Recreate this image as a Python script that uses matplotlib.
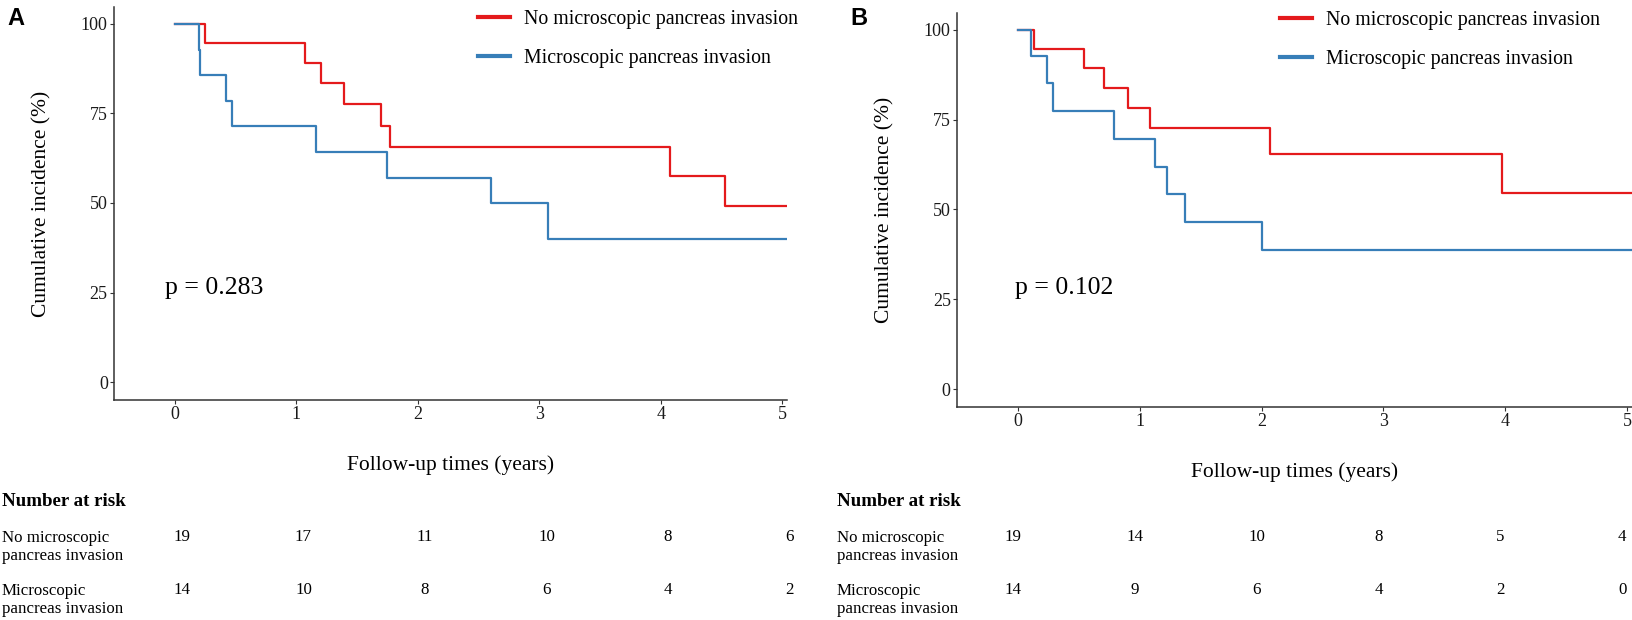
import matplotlib
matplotlib.use("Agg")
import matplotlib.pyplot as plt
from matplotlib.lines import Line2D
from matplotlib.transforms import blended_transform_factory

plt.rcParams["font.family"] = ["Liberation Serif", "DejaVu Serif"]

# panel A, step curves (years, %)
a_no_t = [0, 0.246, 1.075, 1.20, 1.39, 1.70, 1.77, 4.08, 4.53, 5.04]
a_no_s = [100, 94.7, 89.1, 83.5, 77.5, 71.6, 65.6, 57.4, 49.2, 49.2]
a_mi_t = [0, 0.20, 0.21, 0.42, 0.47, 1.165, 1.745, 2.60, 3.07, 5.04]
a_mi_s = [100, 92.8, 85.6, 78.4, 71.4, 64.2, 57.0, 50.0, 40.0, 40.0]

# panel B
b_no_t = [0, 0.13, 0.545, 0.706, 0.907, 1.086, 2.067, 3.975, 5.04]
b_no_s = [100, 94.6, 89.3, 83.8, 78.2, 72.7, 65.4, 54.5, 54.5]
b_mi_t = [0, 0.109, 0.239, 0.288, 0.787, 1.125, 1.227, 1.374, 2.007, 5.04]
b_mi_s = [100, 92.8, 85.1, 77.4, 69.7, 61.9, 54.2, 46.5, 38.7, 38.7]

risk_years = [0, 1, 2, 3, 4, 5]
a_risk_no = [19, 17, 11, 10, 8, 6]
a_risk_mi = [14, 10, 8, 6, 4, 2]
b_risk_no = [19, 14, 10, 8, 5, 4]
b_risk_mi = [14, 9, 6, 4, 2, 0]

p_a = "p = 0.283"
p_b = "p = 0.102"

labels = ["No microscopic pancreas invasion", "Microscopic pancreas invasion"]
row_labels = ["No microscopic\npancreas invasion", "Microscopic\npancreas invasion"]
red = "#E41A1C"
blue = "#377EB8"

W, H = 1632, 620
fig = plt.figure(figsize=(W / 100, H / 100), dpi=100)


def fx(px):
    return px / W


def fy(py):
    return 1 - py / H


panels = [
    dict(rect=[fx(114), fy(400), fx(787) - fx(114), (400 - 7) / H],
         no=(a_no_t, a_no_s), mi=(a_mi_t, a_mi_s), p=p_a, py=26.3, px=-0.08,
         leg=(478, 10), letter="A", lx=7, ylx=42, xly=465,
         risk=(a_risk_no, a_risk_mi), roff=0.06, tabx=2),
    dict(rect=[fx(957), fy(407), fx(1632) - fx(957), (407 - 13) / H],
         no=(b_no_t, b_no_s), mi=(b_mi_t, b_mi_s), p=p_b, py=28.1, px=-0.02,
         leg=(1280, 11), letter="B", lx=850, ylx=885, xly=472,
         risk=(b_risk_no, b_risk_mi), roff=-0.04, tabx=837),
]

for pn in panels:
    ax = fig.add_axes(pn["rect"])
    ax.step(pn["no"][0], pn["no"][1], where="post", color=red, lw=1.6)
    ax.step(pn["mi"][0], pn["mi"][1], where="post", color=blue, lw=1.6)
    ax.set_xlim(-0.5, 5.04)
    ax.set_ylim(-5, 104.7)
    ax.set_xticks(risk_years)
    ax.set_yticks([0, 25, 50, 75, 100])
    ax.tick_params(labelsize=13, length=3, width=0.8, pad=1.5,
                   colors="#333333", labelcolor="#1a1a1a")
    for s in ["top", "right"]:
        ax.spines[s].set_visible(False)
    for s in ["left", "bottom"]:
        ax.spines[s].set_linewidth(1.1)
        ax.spines[s].set_color("#333333")
    ax.text(pn["px"], pn["py"], pn["p"], fontsize=18.5, va="center", ha="left")

    handles = [Line2D([], [], color=red, lw=3), Line2D([], [], color=blue, lw=3)]
    ax.legend(handles, labels, loc="upper left",
              bbox_to_anchor=(fx(pn["leg"][0]), fy(pn["leg"][1])),
              bbox_transform=fig.transFigure, frameon=False, fontsize=14.3,
              borderpad=0, borderaxespad=0, handlelength=1.6,
              handletextpad=0.7, labelspacing=1.0)

    fig.text(fx(pn["lx"]), fy(7), pn["letter"], family="Liberation Sans",
             fontweight="bold", fontsize=17, va="top", ha="left")
    fig.text(fx(pn["ylx"]), (pn["rect"][1] + pn["rect"][3] / 2),
             "Cumulative incidence (%)", rotation=90, fontsize=15.5,
             va="center", ha="center")
    xc = pn["rect"][0] + pn["rect"][2] / 2
    fig.text(xc, fy(pn["xly"]), "Follow-up times (years)", fontsize=15.5,
             va="center", ha="center")

    # number at risk table
    fig.text(fx(pn["tabx"]), fy(502), "Number at risk", fontsize=13.6,
             fontweight="bold", va="center", ha="left")
    fig.text(fx(pn["tabx"]), fy(547), row_labels[0], fontsize=12.2,
             va="center", ha="left", linespacing=1.15)
    fig.text(fx(pn["tabx"]), fy(600), row_labels[1], fontsize=12.2,
             va="center", ha="left", linespacing=1.15)
    tr = blended_transform_factory(ax.transData, fig.transFigure)
    for yr, n1, n2 in zip(risk_years, pn["risk"][0], pn["risk"][1]):
        fig.text(yr + pn["roff"], fy(537), str(n1), transform=tr, fontsize=12.2,
                 va="center", ha="center")
        fig.text(yr + pn["roff"], fy(590), str(n2), transform=tr, fontsize=12.2,
                 va="center", ha="center")

fig.savefig("out.png", dpi=100)
